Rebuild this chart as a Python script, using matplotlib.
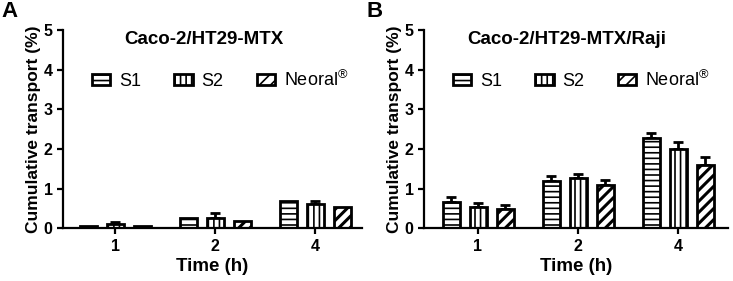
import numpy as np
import matplotlib
matplotlib.use('Agg')
import matplotlib.pyplot as plt

plt.rcParams['font.family'] = ['Liberation Sans', 'DejaVu Sans']
plt.rcParams['mathtext.fontset'] = 'custom'
plt.rcParams['mathtext.rm'] = 'Liberation Sans'
plt.rcParams['hatch.linewidth'] = 1.2

times = ['1', '2', '4']
series = ['S1', 'S2', 'Neoral$^{®}$']
hatches = ['---', '|||', '///']

# panel A: Caco-2/HT29-MTX
a_mean = {'S1': [0.07, 0.27, 0.68], 'S2': [0.10, 0.25, 0.61], 'Neoral': [0.05, 0.18, 0.53]}
a_err = {'S1': [0.0, 0.0, 0.0], 'S2': [0.05, 0.13, 0.09], 'Neoral': [0.0, 0.0, 0.0]}

# panel B: Caco-2/HT29-MTX/Raji
b_mean = {'S1': [0.67, 1.19, 2.27], 'S2': [0.53, 1.28, 2.00], 'Neoral': [0.48, 1.08, 1.60]}
b_err = {'S1': [0.11, 0.14, 0.13], 'S2': [0.10, 0.09, 0.18], 'Neoral': [0.12, 0.14, 0.21]}

fig = plt.figure(figsize=(7.33, 2.81), dpi=100)
ax_a = fig.add_axes([63/733, 1 - 228.3/281, 299/733, 198.3/281])
ax_b = fig.add_axes([424/733, 1 - 228.3/281, 304/733, 198.3/281])

x = np.arange(len(times))
keys = ['S1', 'S2', 'Neoral']


def draw(ax, means, errs, title, xlim, leg_x):
    for i, k in enumerate(keys):
        pos = x + (i - 1) * 0.27
        bars = ax.bar(pos, means[k], 0.17, color='white', edgecolor='black',
                      linewidth=2, hatch=hatches[i], label=series[i], zorder=2)
        if i == 2:
            for b in bars:
                if hasattr(b, 'set_hatch_linewidth'):
                    b.set_hatch_linewidth(2.2)
        err = np.array(errs[k])
        if err.max() > 0:
            ax.errorbar(pos, means[k], yerr=[np.zeros_like(err), err], fmt='none',
                        ecolor='black', elinewidth=2, capsize=3.5, capthick=2, zorder=1)
    ax.set_xlim(*xlim)
    ax.set_ylim(0, 5)
    ax.set_yticks(range(6))
    ax.set_xticks(x)
    ax.set_xticklabels(times)
    for s in ['top', 'right']:
        ax.spines[s].set_visible(False)
    for s in ['left', 'bottom']:
        ax.spines[s].set_linewidth(1.6)
    ax.tick_params(width=1.6, length=4, labelsize=11.5)
    for lbl in ax.get_xticklabels() + ax.get_yticklabels():
        lbl.set_fontweight('bold')
    ax.set_xlabel('Time (h)', fontsize=13.5, fontweight='bold', labelpad=3)
    ax.set_ylabel('Cumulative transport (%)', fontsize=12.5, fontweight='bold', labelpad=2)
    ax.text(0.47, 0.95, title, transform=ax.transAxes, ha='center', va='center',
            fontsize=13.5, fontweight='bold')
    leg = ax.legend(loc='center left', bbox_to_anchor=(leg_x / 733, 1 - 80 / 281),
                    bbox_transform=fig.transFigure, borderpad=0, borderaxespad=0,
                    ncol=3, frameon=False, fontsize=13, handlelength=1.0,
                    handleheight=0.55, columnspacing=1.85, handletextpad=0.5)
    for h in leg.legend_handles:
        h.set_linewidth(2)


draw(ax_a, a_mean, a_err, 'Caco-2/HT29-MTX', (-0.52, 2.47), 92)
draw(ax_b, b_mean, b_err, 'Caco-2/HT29-MTX/Raji', (-0.54, 2.5), 453)

fig.text(0.002, 0.998, 'A', fontsize=16, fontweight='bold', va='top', ha='left')
fig.text(366/733, 0.998, 'B', fontsize=16, fontweight='bold', va='top', ha='left')

fig.savefig('out.png', dpi=100)
